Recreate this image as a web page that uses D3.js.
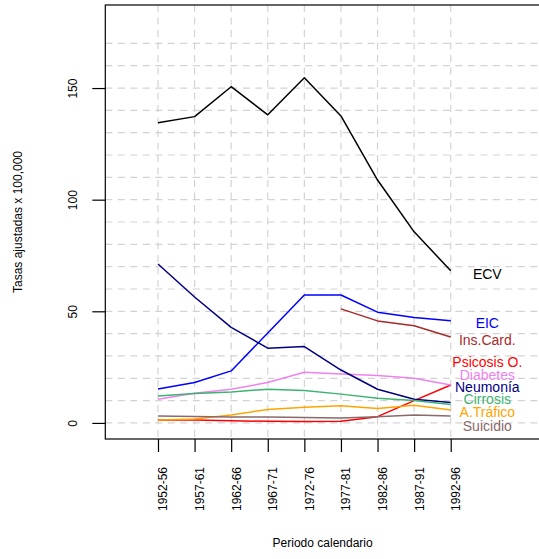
<!DOCTYPE html>
<html>
<head>
<meta charset="utf-8">
<script src="https://cdn.jsdelivr.net/npm/d3@7"></script>
<style>
  html, body { margin: 0; padding: 0; background: #fff; }
  svg { display: block; font-family: "Liberation Sans", Arial, Helvetica, sans-serif; }
</style>
</head>
<body>
<svg id="chart" width="539" height="559"></svg>
<script>
// Periods (x categories)
const periods = ["1952-56", "1957-61", "1962-66", "1967-71", "1972-76", "1977-81", "1982-86", "1987-91", "1992-96"];

// Adjusted rates per 100,000 by cause of death
const ecv       = [134.5, 137.2, 150.6, 138.0, 154.6, 137.5, 108.8, 85.6, 68.2];
const eic       = [15.2, 18.1, 23.3, 40.3, 57.3, 57.3, 49.6, 47.2, 45.8];
const insCard   = [null, null, null, null, null, 51.1, 45.7, 43.5, 38.5];
const psicosis  = [1.3, 1.3, 1.0, 0.7, 0.6, 0.8, 2.8, 10.0, 17.0];
const diabetes  = [10.6, 13.3, 15.1, 18.1, 22.7, 21.9, 21.2, 20.0, 17.0];
const neumonia  = [71.2, 56.4, 42.8, 33.5, 34.2, 23.7, 15.1, 10.6, 9.1];
const cirrosis  = [12.1, 13.2, 13.9, 15.1, 14.5, 12.9, 11.1, 10.0, 8.3];
const trafico   = [1.3, 1.8, 3.6, 6.0, 7.0, 7.7, 6.5, 7.9, 5.8];
const suicidio  = [3.1, 2.9, 2.7, 2.6, 2.4, 2.2, 2.8, 3.6, 3.1];

// Series labels and where they sit beside the line ends
const seriesNames  = ["ECV", "EIC", "Ins.Card.", "Psicosis O.", "Diabetes", "Neumonía", "Cirrosis", "A.Tráfico", "Suicidio"];
const seriesColors = ["#000000", "#0000FF", "#A52A2A", "#FF0000", "#EE82EE", "#000080", "#3CB371", "#FFA500", "#8B6969"];
const labelY       = [66.8, 44.7, 37.0, 27.5, 21.6, 16.0, 10.6, 4.8, -1.2];

// Axis ticks
const yTicks = [0, 50, 100, 150];
const yGrid  = d3.range(0, 171, 10);

const seriesValues = [ecv, eic, insCard, psicosis, diabetes, neumonia, cirrosis, trafico, suicidio];

const svg = d3.select("#chart");
const box = { left: 105.3, right: 540, top: 5, bottom: 439 };

const x = d3.scaleLinear().domain([-0.44, 11.44]).range([box.left, box.right]);
const y = d3.scaleLinear().domain([-7.2, 187.2]).range([box.bottom, box.top]);

// Grid
const grid = svg.append("g").attr("stroke", "#d3d3d3").attr("stroke-width", 1.2).attr("stroke-dasharray", "7,5.5");
grid.selectAll("line.h").data(yGrid).join("line")
  .attr("x1", box.left).attr("x2", box.right)
  .attr("y1", d => y(d)).attr("y2", d => y(d));
grid.selectAll("line.v").data(periods).join("line")
  .attr("x1", (d, i) => x(i + 1)).attr("x2", (d, i) => x(i + 1))
  .attr("y1", box.top).attr("y2", box.bottom);

// Series lines
const line = d3.line()
  .defined(d => d.v !== null)
  .x(d => x(d.i + 1))
  .y(d => y(d.v));

seriesValues.forEach((vals, k) => {
  svg.append("path")
    .datum(vals.map((v, i) => ({ i, v })))
    .attr("fill", "none")
    .attr("stroke", seriesColors[k])
    .attr("stroke-width", 1.5)
    .attr("stroke-linejoin", "round")
    .attr("d", line);
});

// Series labels
svg.append("g").selectAll("text").data(seriesNames).join("text")
  .attr("x", x(10))
  .attr("y", (d, i) => y(labelY[i]))
  .attr("dy", "0.36em")
  .attr("text-anchor", "middle")
  .attr("font-size", 14)
  .attr("fill", (d, i) => seriesColors[i])
  .text(d => d);

// Plot box
svg.append("rect")
  .attr("x", box.left).attr("y", box.top)
  .attr("width", box.right - box.left).attr("height", box.bottom - box.top)
  .attr("fill", "none").attr("stroke", "#000").attr("stroke-width", 1.2);

// Y axis
const yAxis = d3.axisLeft(y).tickValues(yTicks).tickSize(13).tickFormat(d3.format("d"));
const gy = svg.append("g").attr("transform", `translate(${box.left},0)`).call(yAxis);
gy.select(".domain").remove();
gy.selectAll(".tick line").attr("stroke", "#000").attr("stroke-width", 1.2);
gy.selectAll(".tick text")
  .attr("font-size", 12).attr("fill", "#000")
  .attr("x", null).attr("dy", null)
  .attr("text-anchor", "middle")
  .attr("transform", "translate(-28,0) rotate(-90)");

// X axis
const xAxis = d3.axisBottom(x).tickValues(d3.range(1, periods.length + 1)).tickSize(13)
  .tickFormat(d => periods[d - 1]);
const gx = svg.append("g").attr("transform", `translate(0,${box.bottom})`).call(xAxis);
gx.select(".domain").remove();
gx.selectAll(".tick line").attr("stroke", "#000").attr("stroke-width", 1.2);
gx.selectAll(".tick text")
  .attr("font-size", 12).attr("fill", "#000")
  .attr("y", null).attr("dy", null)
  .attr("text-anchor", "end")
  .attr("transform", "translate(9,28) rotate(-90)");

// Axis titles
svg.append("text")
  .attr("x", (box.left + box.right) / 2).attr("y", 547)
  .attr("text-anchor", "middle").attr("font-size", 12)
  .text("Periodo calendario");

svg.append("text")
  .attr("transform", `translate(22,${(box.top + box.bottom) / 2}) rotate(-90)`)
  .attr("text-anchor", "middle").attr("font-size", 12)
  .text("Tasas ajustadas x 100,000");
</script>
</body>
</html>
